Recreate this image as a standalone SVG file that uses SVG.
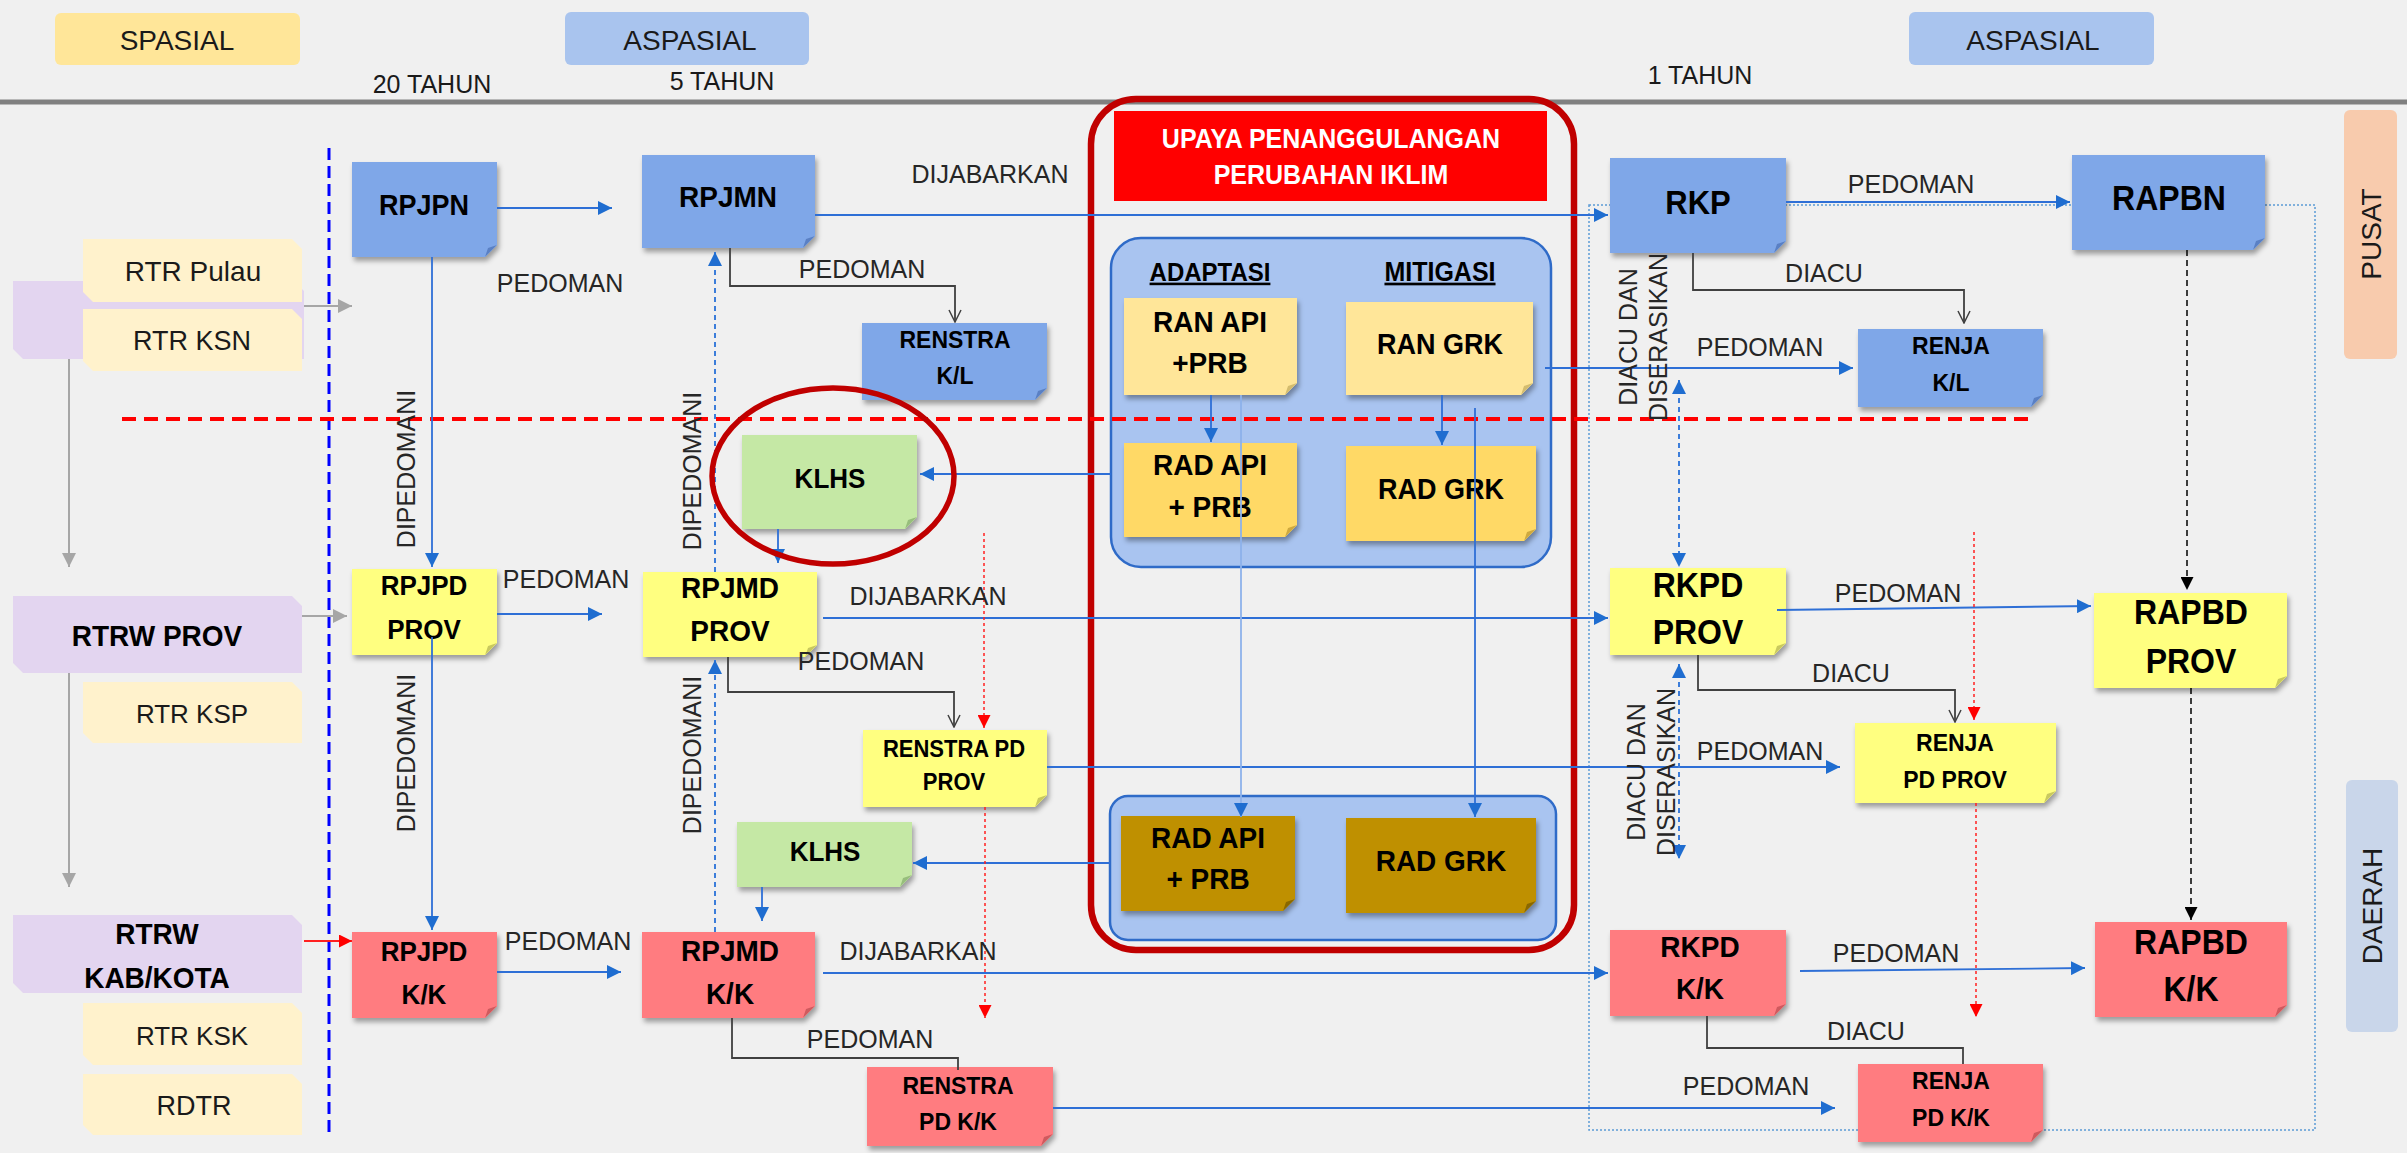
<svg xmlns="http://www.w3.org/2000/svg" width="2407" height="1153" viewBox="0 0 2407 1153">
<style>
.t{font-family:"Liberation Sans",Arial,sans-serif;font-weight:bold;text-anchor:middle;fill:#000;transform-box:fill-box;transform-origin:center;transform:scaleY(1.07)}
.l{font-family:"Liberation Sans",Arial,sans-serif;font-size:25px;text-anchor:middle;fill:#262626}
.h{font-family:"Liberation Sans",Arial,sans-serif;text-anchor:middle;fill:#1a1a1a}
.n{filter:url(#sh)}
.blue{fill:#7FA7E8}.bluef{fill:#5A80C4}
.yel{fill:#FFFF80}.yelf{fill:#C9C95E}
.pink{fill:#FF7C80}.pinkf{fill:#CF5A5E}
.grn{fill:#C5E8A5}.grnf{fill:#97BE7C}
.ran{fill:#FFE699}.ranf{fill:#D4BC6E}
.rad{fill:#FFD966}.radf{fill:#CFA93E}
.rad2{fill:#BF9000}.rad2f{fill:#8A6800}
.sp{fill:#FFF2CC}.pu{fill:#E3D5F0}
.c{fill:none;stroke:#2E6FD6;stroke-width:1.8}
.cl{fill:none;stroke:#8DB2EA;stroke-width:1.8}
.cd{fill:none;stroke:#3C7DDA;stroke-width:2;stroke-dasharray:5 4}
.cg{fill:none;stroke:#A6A6A6;stroke-width:2}
.ck{fill:none;stroke:#404040;stroke-width:1.8}
.cr{fill:none;stroke:#FF2020;stroke-width:1.5;stroke-dasharray:3 3}
.cb{fill:none;stroke:#000;stroke-width:1.5;stroke-dasharray:6 4}
</style>
<defs>
<filter id="sh" x="-10%" y="-10%" width="130%" height="140%"><feDropShadow dx="2" dy="4" stdDeviation="2.5" flood-color="#000" flood-opacity="0.35"/></filter>
<marker id="ab" viewBox="0 0 14 14" refX="14" refY="7" markerWidth="14" markerHeight="14" markerUnits="userSpaceOnUse" orient="auto-start-reverse"><path d="M0,0 L14,7 L0,14 Z" fill="#1F6DD0"/></marker>
<marker id="ag" viewBox="0 0 14 14" refX="14" refY="7" markerWidth="14" markerHeight="14" markerUnits="userSpaceOnUse" orient="auto"><path d="M0,0 L14,7 L0,14 Z" fill="#A6A6A6"/></marker>
<marker id="ar" viewBox="0 0 14 14" refX="14" refY="7" markerWidth="13" markerHeight="13" markerUnits="userSpaceOnUse" orient="auto"><path d="M0,0 L14,7 L0,14 Z" fill="#FF0000"/></marker>
<marker id="ak" viewBox="0 0 14 14" refX="14" refY="7" markerWidth="13" markerHeight="13" markerUnits="userSpaceOnUse" orient="auto"><path d="M0,0 L14,7 L0,14 Z" fill="#000"/></marker>
<marker id="ao" viewBox="0 0 14 14" refX="13" refY="7" markerWidth="14" markerHeight="14" markerUnits="userSpaceOnUse" orient="auto"><path d="M1,1 L13,7 L1,13" fill="none" stroke="#404040" stroke-width="1.5"/></marker>
</defs>
<rect x="0" y="0" width="2407" height="1153" fill="#F0F0F0"/>

<g id="header">
<rect x="55" y="13" width="245" height="52" rx="6" fill="#FFE699"/>
<text class="h" x="177" y="50" font-size="28">SPASIAL</text>
<rect x="565" y="12" width="244" height="53" rx="6" fill="#A9C4EE"/>
<text class="h" x="690" y="50" font-size="28">ASPASIAL</text>
<rect x="1909" y="12" width="245" height="53" rx="6" fill="#A9C4EE"/>
<text class="h" x="2033" y="50" font-size="28">ASPASIAL</text>
<text class="h" x="432" y="93" font-size="25">20 TAHUN</text>
<text class="h" x="722" y="90" font-size="25">5 TAHUN</text>
<text class="h" x="1700" y="84" font-size="25">1 TAHUN</text>
<line x1="0" y1="102" x2="2407" y2="102" stroke="#808080" stroke-width="5"/>
<rect x="2344" y="110" width="53" height="249" rx="6" fill="#F8CBAD"/>
<text class="h" font-size="28" transform="translate(2371,234) rotate(-90)" dy="0.35em">PUSAT</text>
<rect x="2346" y="780" width="52" height="252" rx="6" fill="#C9D6EA"/>
<text class="h" font-size="28" transform="translate(2372,906) rotate(-90)" dy="0.35em">DAERAH</text>
</g>

<g id="guides">
<line x1="329" y1="148" x2="329" y2="1133" stroke="#0000FF" stroke-width="3" stroke-dasharray="12 6"/>
<rect x="1589" y="205" width="726" height="925" fill="none" stroke="#5B9BD5" stroke-width="1.5" stroke-dasharray="2 2"/>
</g>

<g id="spatial">
<path class="pu" d="M13 281 H294 L304 291 V359 H23 L13 349 Z"/>
<g id="rtr-pulau"><path class="sp" d="M83 239 H292 L302 249 V302 H93 L83 292 Z"/><text class="h" x="193" y="281" font-size="28">RTR Pulau</text></g>
<g id="rtr-ksn"><path class="sp" d="M83 309 H292 L302 319 V371 H93 L83 361 Z"/><text class="h" x="192" y="350" font-size="27">RTR KSN</text></g>
<g id="rtrw-prov"><path class="pu" d="M13 596 H292 L302 606 V673 H23 L13 663 Z"/><text class="t" x="157" y="645" font-size="28">RTRW PROV</text></g>
<g id="rtr-ksp"><path class="sp" d="M83 682 H292 L302 692 V743 H93 L83 733 Z"/><text class="h" x="192" y="723" font-size="26">RTR KSP</text></g>
<g id="rtrw-kk"><path class="pu" d="M13 915 H292 L302 925 V993 H23 L13 983 Z"/><text class="t" x="157" y="943" font-size="28">RTRW</text><text class="t" x="157" y="987" font-size="28">KAB/KOTA</text></g>
<g id="rtr-ksk"><path class="sp" d="M83 1003 H292 L302 1013 V1065 H93 L83 1055 Z"/><text class="h" x="192" y="1045" font-size="26">RTR KSK</text></g>
<g id="rdtr"><path class="sp" d="M83 1074 H292 L302 1084 V1135 H93 L83 1125 Z"/><text class="h" x="194" y="1115" font-size="27">RDTR</text></g>
</g>

<g id="upaya">
<rect x="1091" y="99" width="483" height="851" rx="45" fill="none" stroke="#C00000" stroke-width="6.5"/>
<rect x="1114" y="111" width="433" height="90" fill="#FF0000"/>
<text class="t" x="1331" y="147" font-size="25" style="fill:#fff">UPAYA PENANGGULANGAN</text>
<text class="t" x="1331" y="183" font-size="25" style="fill:#fff">PERUBAHAN IKLIM</text>
<rect x="1111" y="238" width="440" height="329" rx="30" fill="#A9C4F0" stroke="#2F6BC8" stroke-width="2.5"/>
<text class="t" x="1210" y="280" font-size="24" text-decoration="underline">ADAPTASI</text>
<text class="t" x="1440" y="280" font-size="25" text-decoration="underline">MITIGASI</text>
<rect x="1110" y="796" width="446" height="144" rx="18" fill="#A9C4F0" stroke="#2F6BC8" stroke-width="2.5"/>
</g>

<g id="nodes">
<g id="rpjpn"><path class="n blue" d="M352 162 H497 V245 L485 257 H352 Z"/><path class="bluef" d="M497 245 L485 257 L488 248 Z"/><text class="t" x="424" y="214" font-size="27">RPJPN</text></g>
<g id="rpjmn"><path class="n blue" d="M642 155 H815 V236 L803 248 H642 Z"/><path class="bluef" d="M815 236 L803 248 L806 239 Z"/><text class="t" x="728" y="206" font-size="28">RPJMN</text></g>
<g id="renstra-kl"><path class="n blue" d="M862 323 H1047 V388 L1035 400 H862 Z"/><path class="bluef" d="M1047 388 L1035 400 L1038 391 Z"/><text class="t" x="955" y="347" font-size="23">RENSTRA</text><text class="t" x="955" y="383" font-size="23">K/L</text></g>
<g id="rkp"><path class="n blue" d="M1610 158 H1786 V241 L1774 253 H1610 Z"/><path class="bluef" d="M1786 241 L1774 253 L1777 244 Z"/><text class="t" x="1698" y="213" font-size="31">RKP</text></g>
<g id="rapbn"><path class="n blue" d="M2072 155 H2265 V238 L2253 250 H2072 Z"/><path class="bluef" d="M2265 238 L2253 250 L2256 241 Z"/><text class="t" x="2169" y="209" font-size="32">RAPBN</text></g>
<g id="renja-kl"><path class="n blue" d="M1858 329 H2043 V395 L2031 407 H1858 Z"/><path class="bluef" d="M2043 395 L2031 407 L2034 398 Z"/><text class="t" x="1951" y="353" font-size="23">RENJA</text><text class="t" x="1951" y="390" font-size="23">K/L</text></g>
<g id="klhs1"><path class="n grn" d="M742 435 H917 V517 L905 529 H742 Z"/><path class="grnf" d="M917 517 L905 529 L908 520 Z"/><text class="t" x="830" y="487" font-size="26">KLHS</text></g>
<g id="rpjpd-prov"><path class="n yel" d="M352 569 H497 V643 L485 655 H352 Z"/><path class="yelf" d="M497 643 L485 655 L488 646 Z"/><text class="t" x="424" y="594" font-size="26">RPJPD</text><text class="t" x="424" y="638" font-size="26">PROV</text></g>
<g id="rpjmd-prov"><path class="n yel" d="M643 572 H817 V645 L805 657 H643 Z"/><path class="yelf" d="M817 645 L805 657 L808 648 Z"/><text class="t" x="730" y="597" font-size="28">RPJMD</text><text class="t" x="730" y="640" font-size="28">PROV</text></g>
<g id="renstra-pd-prov"><path class="n yel" d="M863 730 H1047 V795 L1035 807 H863 Z"/><path class="yelf" d="M1047 795 L1035 807 L1038 798 Z"/><text class="t" x="954" y="756" font-size="22">RENSTRA PD</text><text class="t" x="954" y="789" font-size="22">PROV</text></g>
<g id="klhs2"><path class="n grn" d="M737 822 H912 V875 L900 887 H737 Z"/><path class="grnf" d="M912 875 L900 887 L903 878 Z"/><text class="t" x="825" y="860" font-size="26">KLHS</text></g>
<g id="rkpd-prov"><path class="n yel" d="M1610 568 H1786 V643 L1774 655 H1610 Z"/><path class="yelf" d="M1786 643 L1774 655 L1777 646 Z"/><text class="t" x="1698" y="596" font-size="32">RKPD</text><text class="t" x="1698" y="643" font-size="32">PROV</text></g>
<g id="rapbd-prov"><path class="n yel" d="M2094 593 H2287 V676 L2275 688 H2094 Z"/><path class="yelf" d="M2287 676 L2275 688 L2278 679 Z"/><text class="t" x="2191" y="623" font-size="32">RAPBD</text><text class="t" x="2191" y="672" font-size="32">PROV</text></g>
<g id="renja-pd-prov"><path class="n yel" d="M1855 723 H2056 V791 L2044 803 H1855 Z"/><path class="yelf" d="M2056 791 L2044 803 L2047 794 Z"/><text class="t" x="1955" y="750" font-size="23">RENJA</text><text class="t" x="1955" y="787" font-size="23">PD PROV</text></g>
<g id="rpjpd-kk"><path class="n pink" d="M352 932 H497 V1006 L485 1018 H352 Z"/><path class="pinkf" d="M497 1006 L485 1018 L488 1009 Z"/><text class="t" x="424" y="960" font-size="26">RPJPD</text><text class="t" x="424" y="1003" font-size="26">K/K</text></g>
<g id="rpjmd-kk"><path class="n pink" d="M642 932 H815 V1006 L803 1018 H642 Z"/><path class="pinkf" d="M815 1006 L803 1018 L806 1009 Z"/><text class="t" x="730" y="960" font-size="28">RPJMD</text><text class="t" x="730" y="1003" font-size="28">K/K</text></g>
<g id="renstra-pd-kk"><path class="n pink" d="M867 1067 H1053 V1134 L1041 1146 H867 Z"/><path class="pinkf" d="M1053 1134 L1041 1146 L1044 1137 Z"/><text class="t" x="958" y="1093" font-size="23">RENSTRA</text><text class="t" x="958" y="1129" font-size="23">PD K/K</text></g>
<g id="rkpd-kk"><path class="n pink" d="M1610 930 H1786 V1004 L1774 1016 H1610 Z"/><path class="pinkf" d="M1786 1004 L1774 1016 L1777 1007 Z"/><text class="t" x="1700" y="956" font-size="28">RKPD</text><text class="t" x="1700" y="998" font-size="28">K/K</text></g>
<g id="rapbd-kk"><path class="n pink" d="M2095 922 H2287 V1005 L2275 1017 H2095 Z"/><path class="pinkf" d="M2287 1005 L2275 1017 L2278 1008 Z"/><text class="t" x="2191" y="953" font-size="32">RAPBD</text><text class="t" x="2191" y="1000" font-size="32">K/K</text></g>
<g id="renja-pd-kk"><path class="n pink" d="M1858 1064 H2043 V1130 L2031 1142 H1858 Z"/><path class="pinkf" d="M2043 1130 L2031 1142 L2034 1133 Z"/><text class="t" x="1951" y="1088" font-size="23">RENJA</text><text class="t" x="1951" y="1125" font-size="23">PD K/K</text></g>
<g id="ran-api"><path class="n ran" d="M1124 298 H1297 V383 L1285 395 H1124 Z"/><path class="ranf" d="M1297 383 L1285 395 L1288 386 Z"/><text class="t" x="1210" y="331" font-size="28">RAN API</text><text class="t" x="1210" y="372" font-size="28">+PRB</text></g>
<g id="ran-grk"><path class="n ran" d="M1346 302 H1533 V383 L1521 395 H1346 Z"/><path class="ranf" d="M1533 383 L1521 395 L1524 386 Z"/><text class="t" x="1440" y="353" font-size="27">RAN GRK</text></g>
<g id="rad-api"><path class="n rad" d="M1124 443 H1297 V525 L1285 537 H1124 Z"/><path class="radf" d="M1297 525 L1285 537 L1288 528 Z"/><text class="t" x="1210" y="474" font-size="28">RAD API</text><text class="t" x="1210" y="516" font-size="28">+ PRB</text></g>
<g id="rad-grk"><path class="n rad" d="M1346 446 H1536 V529 L1524 541 H1346 Z"/><path class="radf" d="M1536 529 L1524 541 L1527 532 Z"/><text class="t" x="1441" y="498" font-size="27">RAD GRK</text></g>
<g id="rad-api-2"><path class="n rad2" d="M1121 816 H1295 V899 L1283 911 H1121 Z"/><path class="rad2f" d="M1295 899 L1283 911 L1286 902 Z"/><text class="t" x="1208" y="847" font-size="28">RAD API</text><text class="t" x="1208" y="888" font-size="28">+ PRB</text></g>
<g id="rad-grk-2"><path class="n rad2" d="M1346 818 H1536 V901 L1524 913 H1346 Z"/><path class="rad2f" d="M1536 901 L1524 913 L1527 904 Z"/><text class="t" x="1441" y="870" font-size="28">RAD GRK</text></g>
</g>

<g id="connectors">
<line x1="122" y1="419" x2="2032" y2="419" stroke="#FF0000" stroke-width="4" stroke-dasharray="14 8"/>
<path class="cg" d="M304 306 H352" marker-end="url(#ag)"/>
<path class="cg" d="M69 359 V567" marker-end="url(#ag)"/>
<path class="cg" d="M302 616 H347" marker-end="url(#ag)"/>
<path class="cg" d="M69 673 V887" marker-end="url(#ag)"/>
<path fill="none" stroke="#FF2020" stroke-width="2" d="M304 941 H352" marker-end="url(#ar)"/>
<path class="c" d="M497 208 H612" marker-end="url(#ab)"/>
<path class="c" d="M432 257 V567" marker-end="url(#ab)"/>
<path class="c" d="M432 637 V930" marker-end="url(#ab)"/>
<path class="c" d="M497 614 H602" marker-end="url(#ab)"/>
<path class="c" d="M497 972 H621" marker-end="url(#ab)"/>
<path class="c" d="M815 215 H1608" marker-end="url(#ab)"/>
<path class="c" d="M823 618 H1608" marker-end="url(#ab)"/>
<path class="c" d="M823 973 H1608" marker-end="url(#ab)"/>
<path class="c" d="M1786 202 H2070" marker-end="url(#ab)"/>
<path class="c" d="M1777 610 L2091 606" marker-end="url(#ab)"/>
<path class="c" d="M1800 971 L2085 968" marker-end="url(#ab)"/>
<path class="c" d="M1545 368 H1853" marker-end="url(#ab)"/>
<path class="c" d="M1047 767 H1840" marker-end="url(#ab)"/>
<path class="c" d="M1053 1108 H1835" marker-end="url(#ab)"/>
<path class="c" d="M1111 474 H920" marker-end="url(#ab)"/>
<path class="c" d="M1110 863 H913" marker-end="url(#ab)"/>
<path class="c" d="M778 529 V563" marker-end="url(#ab)"/>
<path class="c" d="M762 887 V921" marker-end="url(#ab)"/>
<path class="c" d="M1211 395 V442" marker-end="url(#ab)"/>
<path class="c" d="M1442 395 V445" marker-end="url(#ab)"/>
<path class="cl" d="M1241 395 V817" marker-end="url(#ab)"/>
<path class="c" d="M1475 408 V817" marker-end="url(#ab)"/>
<path class="cd" d="M715 572 V252" marker-end="url(#ab)"/>
<path class="cd" d="M715 932 V660" marker-end="url(#ab)"/>
<path class="cd" d="M1679 380 V567" marker-start="url(#ab)" marker-end="url(#ab)"/>
<path class="cd" d="M1679 664 V859" marker-start="url(#ab)" marker-end="url(#ab)"/>
<path class="cb" d="M2187 250 V590" marker-end="url(#ak)"/>
<path class="cb" d="M2191 688 V920" marker-end="url(#ak)"/>
<path class="cr" d="M984 533 V728" marker-end="url(#ar)"/>
<path class="cr" d="M985 807 V1018" marker-end="url(#ar)"/>
<path class="cr" d="M1974 532 V720" marker-end="url(#ar)"/>
<path class="cr" d="M1976 803 V1017" marker-end="url(#ar)"/>
<path class="ck" d="M730 248 V286 H955 V322" marker-end="url(#ao)"/>
<path class="ck" d="M728 657 V692 H954 V727" marker-end="url(#ao)"/>
<path class="ck" d="M732 1018 V1058 H958 V1070"/>
<path class="ck" d="M1693 253 V290 H1964 V323" marker-end="url(#ao)"/>
<path class="ck" d="M1698 655 V690 H1955 V722" marker-end="url(#ao)"/>
<path class="ck" d="M1707 1016 V1048 H1963 V1064"/>
</g>

<g id="highlight">
<ellipse cx="833" cy="476" rx="121" ry="88" fill="none" stroke="#C00000" stroke-width="5.5"/>
</g>

<g id="labels">
<text class="l" x="560" y="292">PEDOMAN</text>
<text class="l" x="566" y="588">PEDOMAN</text>
<text class="l" x="568" y="950">PEDOMAN</text>
<text class="l" x="862" y="278">PEDOMAN</text>
<text class="l" x="990" y="183" font-size="24.5">DIJABARKAN</text>
<text class="l" x="928" y="605" font-size="24.5">DIJABARKAN</text>
<text class="l" x="861" y="670">PEDOMAN</text>
<text class="l" x="918" y="960" font-size="24.5">DIJABARKAN</text>
<text class="l" x="870" y="1048">PEDOMAN</text>
<text class="l" x="1911" y="193">PEDOMAN</text>
<text class="l" x="1824" y="282" font-size="24.5">DIACU</text>
<text class="l" x="1760" y="356">PEDOMAN</text>
<text class="l" x="1898" y="602">PEDOMAN</text>
<text class="l" x="1851" y="682" font-size="24.5">DIACU</text>
<text class="l" x="1760" y="760">PEDOMAN</text>
<text class="l" x="1896" y="962">PEDOMAN</text>
<text class="l" x="1866" y="1040" font-size="24.5">DIACU</text>
<text class="l" x="1746" y="1095">PEDOMAN</text>
<text class="l" transform="translate(406,469) rotate(-90)" dy="0.35em">DIPEDOMANI</text>
<text class="l" transform="translate(406,753) rotate(-90)" dy="0.35em">DIPEDOMANI</text>
<text class="l" transform="translate(692,471) rotate(-90)" dy="0.35em">DIPEDOMANI</text>
<text class="l" transform="translate(692,755) rotate(-90)" dy="0.35em">DIPEDOMANI</text>
<text class="l" font-size="20" transform="translate(1628,337) rotate(-90)" dy="0.35em">DIACU DAN</text>
<text class="l" font-size="20" transform="translate(1658,337) rotate(-90)" dy="0.35em">DISERASIKAN</text>
<text class="l" font-size="20" transform="translate(1636,772) rotate(-90)" dy="0.35em">DIACU DAN</text>
<text class="l" font-size="20" transform="translate(1666,772) rotate(-90)" dy="0.35em">DISERASIKAN</text>
</g>
</svg>
